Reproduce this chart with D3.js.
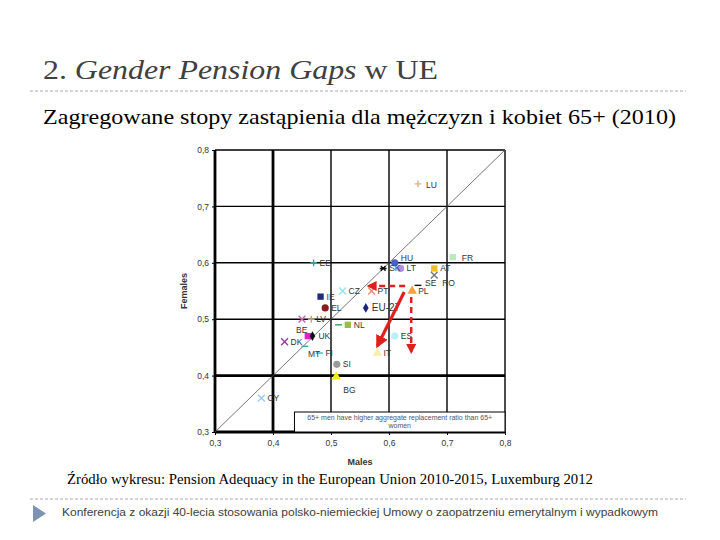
<!DOCTYPE html>
<html>
<head>
<meta charset="utf-8">
<script src="https://cdn.jsdelivr.net/npm/d3@7"></script>
<style>
  body { margin: 0; padding: 0; background: #fff; }
  .serif { font-family: "Liberation Serif", "Times New Roman", serif; }
  .sans { font-family: "Liberation Sans", Arial, sans-serif; }
</style>
</head>
<body>
<div id="chart"></div>
<script>
// Chart data
const countries = ["LU","EE","HU","FR","SK","LT","AT","RO","SE","PL","CZ","PT","IE","EL","EU-27","DE","NL","BE","LV","PLx","UK","DK","MT","FI","SI","BG","IT","ES","CY"];
const labels    = ["LU","EE","HU","FR","SK","LT","AT","RO","SE","PL","CZ","PT","IE","EL","EU-27","","NL","BE","LV","","UK","DK","MT","FI","SI","BG","IT","ES","CY"];
const males     = [0.65,0.47,0.61,0.71,0.59,0.62,0.678,0.678,0.65,0.64,0.52,0.57,0.482,0.49,0.56,0.513,0.529,0.45,0.466,0.46,0.468,0.42,0.455,0.48,0.51,0.509,0.58,0.61,0.38];
const females   = [0.74,0.60,0.60,0.61,0.59,0.59,0.59,0.578,0.56,0.55,0.55,0.55,0.54,0.52,0.52,0.49,0.49,0.50,0.50,0.47,0.47,0.46,0.452,0.44,0.42,0.398,0.44,0.47,0.36];
const markers   = ["plus","plus","circle","square","star","circle","square","cross","dash","triangle","cross","cross","square","circle","diamond","dash","square","cross","plus","square","diamond","cross","dash","dash","circle","triangle","triangle","circle","cross"];
const colors    = ["#d8b48a","#3a9c9c","#4b5fc8","#b9eab9","#111","#b08fe0","#f2c01e","#777","#111","#f3a23c","#8ee4ec","#f08a80","#1f2a80","#8b1a1a","#1a237e","#3a9a5a","#9bbd45","#c766aa","#b9a36c","#e020d0","#111","#9a3a9a","#3aa8a8","#33bbcc","#9a9a9a","#f0ec10","#f6f0a8","#b8f0f8","#9cc8ee"];
const ticks = [0.3, 0.4, 0.5, 0.6, 0.7, 0.8];

const width = 720, height = 540;
const svg = d3.select("#chart").append("svg")
    .attr("width", width)
    .attr("height", height);

// Slide title
const title = svg.append("text")
    .attr("class", "serif")
    .attr("x", 43).attr("y", 79)
    .attr("font-size", 27)
    .attr("fill", "#404040")
    .attr("textLength", 395).attr("lengthAdjust", "spacingAndGlyphs");
title.append("tspan").text("2. ");
title.append("tspan").attr("font-style", "italic").text("Gender Pension Gaps");
title.append("tspan").text(" w UE");

svg.append("line")
    .attr("x1", 30).attr("x2", 686).attr("y1", 91).attr("y2", 91)
    .attr("stroke", "#aaa").attr("stroke-dasharray", "3,2");

svg.append("text")
    .attr("class", "serif")
    .attr("x", 43).attr("y", 124)
    .attr("font-size", 22)
    .attr("fill", "#000")
    .attr("textLength", 633).attr("lengthAdjust", "spacingAndGlyphs")
    .text("Zagregowane stopy zastąpienia dla mężczyzn i kobiet 65+ (2010)");

// Scales
const x = d3.scaleLinear().domain([0.3, 0.8]).range([215, 505]);
const y = d3.scaleLinear().domain([0.3, 0.8]).range([432, 150]);

const plot = svg.append("g");

// grid lines
plot.selectAll(".vgrid")
    .data(ticks)
    .enter().append("line")
    .attr("x1", d => x(d)).attr("x2", d => x(d))
    .attr("y1", y(0.3)).attr("y2", y(0.8))
    .attr("stroke", "#000")
    .attr("stroke-width", d => (d === 0.3 || d === 0.4) ? 2.8 : 1.4);

plot.selectAll(".hgrid")
    .data(ticks)
    .enter().append("line")
    .attr("x1", x(0.3)).attr("x2", x(0.8))
    .attr("y1", d => y(d)).attr("y2", d => y(d))
    .attr("stroke", "#000")
    .attr("stroke-width", d => (d === 0.3 || d === 0.4) ? 2.8 : 1.4);

// axes (labels only)
const fmt = d => d3.format(".1f")(d).replace(".", ",");
const xAxis = plot.append("g")
    .attr("transform", `translate(0,${y(0.3)})`)
    .call(d3.axisBottom(x).tickValues(ticks).tickFormat(fmt).tickSize(3));
const yAxis = plot.append("g")
    .attr("transform", `translate(${x(0.3)},0)`)
    .call(d3.axisLeft(y).tickValues(ticks).tickFormat(fmt).tickSize(3));
[xAxis, yAxis].forEach(a => {
    a.select(".domain").remove();
    a.selectAll("text")
        .attr("font-family", "Liberation Sans, Arial, sans-serif")
        .attr("font-size", 8.5)
        .attr("fill", "#333");
    a.selectAll("line").attr("stroke", "#000");
});
xAxis.selectAll("text").attr("dy", "0.9em");

// diagonal
plot.append("line")
    .attr("x1", x(0.3)).attr("y1", y(0.3))
    .attr("x2", x(0.8)).attr("y2", y(0.8))
    .attr("stroke", "#555").attr("stroke-width", 0.8);

// axis titles
svg.append("text")
    .attr("transform", `translate(187,${y(0.55)}) rotate(-90)`)
    .attr("text-anchor", "middle")
    .attr("font-family", "Liberation Sans, Arial, sans-serif")
    .attr("font-size", 9).attr("font-weight", "bold")
    .attr("fill", "#333")
    .text("Females");
svg.append("text")
    .attr("x", x(0.55)).attr("y", 465)
    .attr("text-anchor", "middle")
    .attr("font-family", "Liberation Sans, Arial, sans-serif")
    .attr("font-size", 9).attr("font-weight", "bold")
    .attr("fill", "#333")
    .text("Males");

// legend-like note box
const boxX = x(0.437), boxW = x(0.8) - boxX;
plot.append("rect")
    .attr("x", boxX).attr("y", 412)
    .attr("width", boxW).attr("height", y(0.3) - 412)
    .attr("fill", "#fff").attr("stroke", "#000").attr("stroke-width", 1);
const note = plot.append("text")
    .attr("font-family", "Liberation Sans, Arial, sans-serif")
    .attr("font-size", 7).attr("fill", "#555")
    .attr("text-anchor", "middle");
note.append("tspan").attr("x", boxX + boxW / 2).attr("y", 420)
    .text("65+ men have higher aggregate replacement ratio than 65+");
note.append("tspan").attr("x", boxX + boxW / 2).attr("y", 428).text("women");

// markers
function markerPath(type) {
    const s = 3.4;
    switch (type) {
        case "plus": return `M${-s},0H${s}M0,${-s}V${s}`;
        case "cross": return `M${-s},${-s}L${s},${s}M${-s},${s}L${s},${-s}`;
        case "dash": return `M${-s},0H${s}`;
        case "star": return `M${-s},0H${s}M${-s * 0.7},${-s * 0.7}L${s * 0.7},${s * 0.7}M${-s * 0.7},${s * 0.7}L${s * 0.7},${-s * 0.7}`;
        case "circle": return d3.symbol(d3.symbolCircle, 40)();
        case "square": return d3.symbol(d3.symbolSquare, 40)();
        case "diamond": return d3.symbol(d3.symbolDiamond, 28)();
        case "triangle": return d3.symbol(d3.symbolTriangle, 38)();
    }
}
const stroked = new Set(["plus", "cross", "dash", "star"]);

const pts = countries.map((c, i) => ({
    id: c, label: labels[i], mx: males[i], fy: females[i], m: markers[i], col: colors[i]
}));

plot.selectAll(".pt")
    .data(pts)
    .enter().append("path")
    .attr("class", "pt")
    .attr("transform", d => `translate(${x(d.mx)},${y(d.fy)})`)
    .attr("d", d => markerPath(d.m))
    .attr("fill", d => stroked.has(d.m) ? "none" : d.col)
    .attr("stroke", d => stroked.has(d.m) ? d.col : "none")
    .attr("stroke-width", 1.4);

// label offsets
const offs = {
    "HU": [6, -5], "SE": [7, -2], "RO": [8, 8], "BE": [-6, 11], "BG": [7, 13],
    "MT": [3, 8], "LV": [5, 0], "FR": [9, 1], "LU": [8, 1]
};
plot.selectAll(".lab")
    .data(pts.filter(d => d.label !== ""))
    .enter().append("text")
    .attr("class", "lab")
    .attr("x", d => x(d.mx) + (offs[d.id] ? offs[d.id][0] : 6))
    .attr("y", d => y(d.fy) + (offs[d.id] ? offs[d.id][1] : 0))
    .attr("dy", "0.35em")
    .attr("font-family", "Liberation Sans, Arial, sans-serif")
    .attr("font-size", d => d.id === "EU-27" ? 10 : 8.5)
    .attr("fill", "#333")
    .text(d => d.label);

// red annotation arrows
const defs = svg.append("defs");
defs.append("marker")
    .attr("id", "arr").attr("viewBox", "0 0 10 10")
    .attr("refX", 8).attr("refY", 5)
    .attr("markerWidth", 4).attr("markerHeight", 4)
    .attr("orient", "auto")
    .append("path").attr("d", "M0,0L10,5L0,10Z").attr("fill", "#e0201c");

const pl = pts.find(d => d.id === "PL");
const pt = pts.find(d => d.id === "PT");
const it = pts.find(d => d.id === "IT");

plot.append("line")
    .attr("x1", x(pl.mx) - 7).attr("y1", y(pl.fy) - 5)
    .attr("x2", x(pt.mx) - 3).attr("y2", y(pl.fy) - 5)
    .attr("stroke", "#e0201c").attr("stroke-width", 2.5)
    .attr("stroke-dasharray", "6,4")
    .attr("marker-end", "url(#arr)");
plot.append("line")
    .attr("x1", x(pl.mx) - 1).attr("y1", y(pl.fy) + 6)
    .attr("x2", x(pl.mx) - 1).attr("y2", y(it.fy) - 1)
    .attr("stroke", "#e0201c").attr("stroke-width", 2.5)
    .attr("stroke-dasharray", "6,4")
    .attr("marker-end", "url(#arr)");
plot.append("line")
    .attr("x1", x(pl.mx) - 8).attr("y1", y(pl.fy) + 1)
    .attr("x2", x(it.mx)).attr("y2", y(it.fy) - 7)
    .attr("stroke", "#e0201c").attr("stroke-width", 3.2)
    .attr("marker-end", "url(#arr)");

// source line
svg.append("text")
    .attr("class", "serif")
    .attr("x", 67).attr("y", 484)
    .attr("font-size", 14)
    .attr("fill", "#000")
    .attr("textLength", 526).attr("lengthAdjust", "spacingAndGlyphs")
    .text("Źródło wykresu: Pension Adequacy in the European Union 2010-2015, Luxemburg 2012");

// footer
svg.append("line")
    .attr("x1", 30).attr("x2", 686).attr("y1", 499).attr("y2", 499)
    .attr("stroke", "#aaa").attr("stroke-dasharray", "3,2");
svg.append("path")
    .attr("d", "M33,505L46,513.5L33,522Z")
    .attr("fill", "#7d93b3");
svg.append("text")
    .attr("class", "sans")
    .attr("x", 62).attr("y", 516)
    .attr("font-size", 11.5)
    .attr("fill", "#404040")
    .attr("textLength", 596).attr("lengthAdjust", "spacingAndGlyphs")
    .text("Konferencja z okazji 40-lecia stosowania polsko-niemieckiej Umowy o zaopatrzeniu emerytalnym i wypadkowym");
</script>
</body>
</html>
